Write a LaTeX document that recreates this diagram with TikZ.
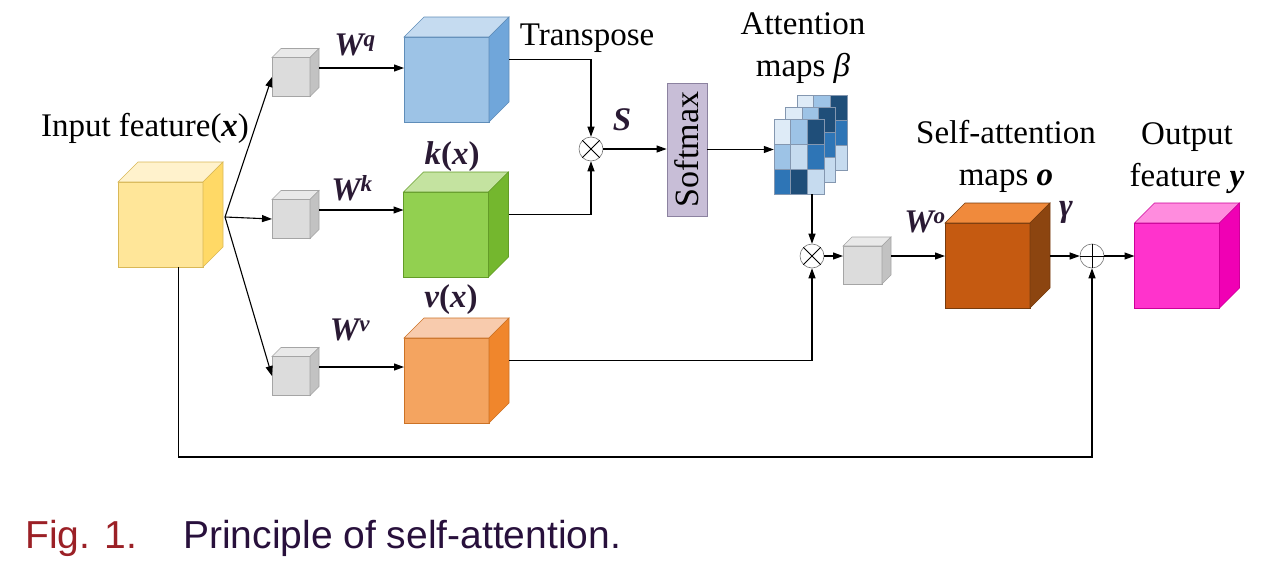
\documentclass[tikz,border=0pt]{standalone}
\usepackage{fontspec}
\setmainfont{Liberation Serif}
\newfontfamily\capfont{Liberation Sans}
\usetikzlibrary{arrows.meta}

\definecolor{labdark}{RGB}{42,26,52}
\definecolor{figred}{RGB}{155,32,38}
\definecolor{capink}{RGB}{40,16,60}
%% cube faces
\definecolor{yelF}{HTML}{FFE699}\definecolor{yelT}{HTML}{FFF2CC}\definecolor{yelS}{HTML}{FFD966}
\definecolor{gryF}{HTML}{DCDCDC}\definecolor{gryT}{HTML}{E9E9E9}\definecolor{gryS}{HTML}{C2C2C2}
\definecolor{bluF}{HTML}{9DC3E6}\definecolor{bluT}{HTML}{C5DBF0}\definecolor{bluS}{HTML}{70A6DA}
\definecolor{grnF}{HTML}{92D050}\definecolor{grnT}{HTML}{C4E3A0}\definecolor{grnS}{HTML}{74B72E}
\definecolor{orgF}{HTML}{F4A460}\definecolor{orgT}{HTML}{F8CBAD}\definecolor{orgS}{HTML}{F0862C}
\definecolor{brnF}{HTML}{C55A11}\definecolor{brnT}{HTML}{F08A3C}\definecolor{brnS}{HTML}{8C4510}
\definecolor{pnkF}{HTML}{FF33CC}\definecolor{pnkT}{HTML}{FF8CDE}\definecolor{pnkS}{HTML}{F000B4}
%% attention cells
\definecolor{cA}{HTML}{DEEBF7}\definecolor{cB}{HTML}{9DC3E6}\definecolor{cC}{HTML}{1F4E79}
\definecolor{cD}{HTML}{2E75B6}\definecolor{cE}{HTML}{C6DBEF}\definecolor{cellline}{HTML}{8497B0}
\definecolor{smF}{RGB}{200,190,215}\definecolor{smD}{RGB}{140,130,160}

\newcommand\bi[1]{\textbf{\textit{#1}}}

\tikzset{
  face/.style={inner sep=0pt, outer sep=0pt, line width=0.6pt},
  link/.style={line width=1.1pt, -{Triangle[length=10pt,width=7pt]}},
  lab/.style={inner sep=1pt, font=\fontsize{33}{42}\selectfont, align=center},
  bilab/.style={lab, text=labdark},
  opnode/.style={circle, draw=black!55, line width=0.6pt, minimum size=24pt, inner sep=0pt},
  cell/.style={draw=cellline, line width=0.7pt},
  smbox/.style={draw=smD, fill=smF, line width=0.8pt, inner sep=0pt,
    font=\fontsize{34}{40}\selectfont},
  capnode/.style={inner sep=0pt, font=\capfont\fontsize{39}{46}\selectfont}
}

\begin{document}
\begin{tikzpicture}[x=1pt,y=-1pt]

%% name, x, y, width, height, depth, front, top, side
\newcommand\boxcube[9]{%
  \node[face, draw=#9!85!black, fill=#7, minimum width=#4pt, minimum height=#5pt] (#1) at (#2,#3) {};
  \draw[face, draw=#9!85!black, fill=#8] (#1.north west) -- ++(#6,-#6) -- ++(#4,0) -- (#1.north east) -- cycle;
  \draw[face, draw=#9!85!black, fill=#9] (#1.north east) -- ++(#6,-#6) -- ++(0,#5) -- (#1.south east) -- cycle;
  \coordinate (#1b) at ([xshift=#6pt, yshift=#6pt]#1.east);
}

  \useasboundingbox (0,0) rectangle (1270,581);

  %% cubes
  \boxcube{inp}{160.5}{224.5}{85}{85}{20}{yelF}{yelT}{yelS}
  \boxcube{gq}{291}{77}{38}{39}{9}{gryF}{gryT}{gryS}
  \boxcube{gk}{291}{219}{38}{39}{9}{gryF}{gryT}{gryS}
  \boxcube{gv}{291}{376}{38}{39}{9}{gryF}{gryT}{gryS}
  \boxcube{q}{446.5}{79.5}{85}{85}{20}{bluF}{bluT}{bluS}
  \boxcube{k}{446}{234.5}{85}{85}{20}{grnF}{grnT}{grnS}
  \boxcube{v}{446.5}{380.5}{85}{85}{20}{orgF}{orgT}{orgS}
  \boxcube{g4}{862.5}{265}{39}{38}{9}{gryF}{gryT}{gryS}
  \boxcube{bro}{987.5}{265.5}{85}{85}{20}{brnF}{brnT}{brnS}
  \boxcube{pk}{1177}{265.5}{85}{85}{20}{pnkF}{pnkT}{pnkS}

  %% softmax and attention maps
  \node[smbox, rotate=90, minimum width=133pt, minimum height=40pt] (sm) at (687,149.5) {Softmax};
  \foreach \s in {2,1,0} {
    \foreach \c/\r/\col in {0/0/cA,1/0/cB,2/0/cC,0/1/cB,1/1/cE,2/1/cD,0/2/cD,1/2/cC,2/2/cE} {
      \draw[cell, fill=\col] (774+11.5*\s+16.67*\c, 119-12*\s+25*\r) rectangle ++(16.67,25);
    }
  }
  \node[inner sep=0pt, minimum width=50pt, minimum height=75pt] (att) at (799,156.5) {};

  %% products and sum
  \node[opnode] (ot1) at (591,149) {};
  \draw[line width=0.8pt] (ot1.45) -- (ot1.225) (ot1.135) -- (ot1.315);
  \node[opnode] (ot2) at (812,256) {};
  \draw[line width=0.8pt] (ot2.45) -- (ot2.225) (ot2.135) -- (ot2.315);
  \node[opnode] (op) at (1092,256) {};
  \draw[line width=0.8pt] (op.north) -- (op.south) (op.east) -- (op.west);

  %% connectors
  \coordinate (br) at (225,217);
  \draw[link] (br) -- (gq.west);
  \draw[link] (br) -- (gk.west);
  \draw[link] (br) -- (gv.west);
  \draw[link] (gqb) -- (gqb -| q.west);
  \draw[link] (gkb) -- (gkb -| k.west);
  \draw[link] (gvb) -- (gvb -| v.west);
  \draw[link] (qb) -| (ot1);
  \draw[link] (kb) -| (ot1);
  \draw[link] (ot1) -- (ot1 -| sm.north);
  \draw[link] (sm) -- (sm -| att.west);
  \draw[link] (ot2 |- att.south) -- (ot2);
  \draw[link] (vb) -| (ot2);
  \draw[link] (ot2) -- (ot2 -| g4.west);
  \draw[link] (g4b) -- (g4b -| bro.west);
  \draw[link] (op -| brob) -- (op);
  \draw[link] (op) -- (op -| pk.west);
  \coordinate (sk) at ([xshift=18pt]inp.south);
  \draw[link] (sk) -- ++(0,190) -| (op);

  %% labels
  \node[lab] (inlab) at (145,128) {Input feature(\bi{x})};
  \node[bilab] (wq) at (355,45) {\bi{W\textsuperscript{q}}};
  \node[bilab] (wk) at (352,188) {\bi{W\textsuperscript{k}}};
  \node[bilab] (wv) at (350,330) {\bi{W\textsuperscript{v}}};
  \node[bilab] (kx) at (452,157) {\bi{k}\textbf{(}\bi{x}\textbf{)}};
  \node[bilab] (vx) at (451,300) {\bi{v}\textbf{(}\bi{x}\textbf{)}};
  \node[lab] (tr) at (587,38) {Transpose};
  \node[bilab] (slab) at (622,120) {\bi{S}};
  \node[lab] (attlab) at (803,48) {Attention\\maps \textit{β}};
  \node[lab] (salab) at (1006,156) {Self-attention\\maps \bi{o}};
  \node[bilab] (wo) at (925,222) {\bi{W\textsuperscript{o}}};
  \node[bilab] (glab) at (1066,212) {\bi{γ}};
  \node[lab] (outlab) at (1187,158) {Output\\feature \bi{y}};

  %% caption
  \node[capnode, text=figred, anchor=base west] (fig) at (25,548) {Fig. 1.};
  \node[capnode, text=capink, anchor=base west] (cap) at (183,548) {Principle of self-attention.};

\end{tikzpicture}
\end{document}
